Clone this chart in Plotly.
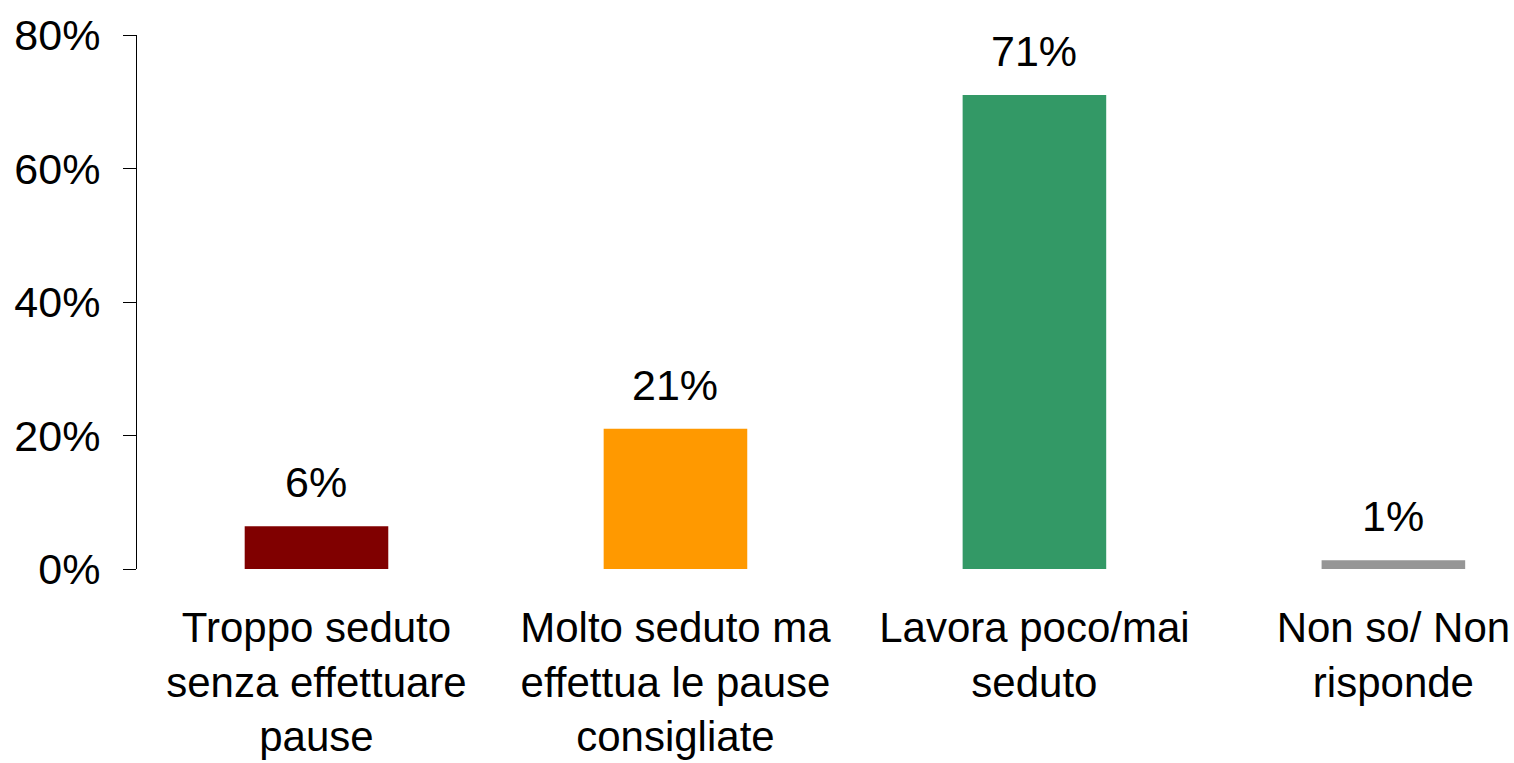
import plotly.graph_objects as go

categories = ["Troppo seduto<br>senza effettuare<br>pause",
              "Molto seduto ma<br>effettua le pause<br>consigliate",
              "Lavora poco/mai<br>seduto",
              "Non so/ Non<br>risponde"]
values = [6.4, 21.0, 71.0, 1.3]
labels = ["6%", "21%", "71%", "1%"]
colors = ["#800000", "#FF9900", "#339966", "#969696"]
yticks = [0, 20, 40, 60, 80]
yticklabels = ["0%", "20%", "40%", "60%", "80%"]

FONT = "Liberation Sans, Arial, sans-serif"
FS = 43

fig = go.Figure()
fig.add_trace(go.Bar(x=categories, y=values, marker=dict(color=colors, line=dict(width=0)),
                     width=0.4, hoverinfo="skip"))

for c, v, t in zip(categories, values, labels):
    fig.add_annotation(x=c, y=v, text=t, showarrow=False, yanchor="bottom",
                       yshift=18, font=dict(family=FONT, size=FS, color="black"))

fig.update_layout(
    width=1514, height=763,
    margin=dict(l=137, r=0, t=35, b=194),
    plot_bgcolor="white", paper_bgcolor="white",
    showlegend=False,
    font=dict(family=FONT, size=FS, color="black"),
    xaxis=dict(type="category", range=[-0.5, 3.336], showline=False, showgrid=False,
               ticks="", tickfont=dict(family=FONT, size=42, color="black"),
               ticklabelstandoff=30, automargin=False),
    yaxis=dict(range=[0, 80], tickvals=yticks, ticktext=yticklabels, showgrid=False,
               zeroline=False, showline=True, linecolor="black", linewidth=1,
               ticks="outside", ticklen=13, tickcolor="black", tickwidth=1,
               ticklabelstandoff=14, automargin=False,
               tickfont=dict(family=FONT, size=FS, color="black")),
)

fig.write_html("out.html", config={"displayModeBar": False},
               post_script="document.body.style.margin='0';document.body.style.overflow='hidden';")
